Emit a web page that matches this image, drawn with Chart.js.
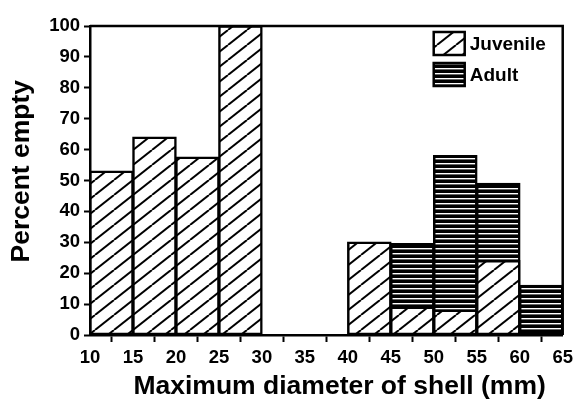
<!DOCTYPE html>
<html>
<head>
<meta charset="utf-8">
<script src="https://cdn.jsdelivr.net/npm/chart.js@4/dist/chart.umd.min.js"></script>
<style>
  html, body { margin: 0; padding: 0; background: #fff; }
  canvas { display: block; }
</style>
</head>
<body>
<canvas id="chart" width="578" height="403"></canvas>
<script>
// Size classes (mm): each bar spans one 5 mm bin between consecutive edges
const binEdges = [10, 15, 20, 25, 30, 35, 40, 45, 50, 55, 60, 65];
// Percent of shells found empty, per size class (null = no bar)
const juvenile = [53, 64, 57.5, 100, null, null, 30, 9, 8, 24, null];
const adult    = [null, null, null, null, null, null, null, 29.5, 58, 49, 16];
const seriesNames = ['Juvenile', 'Adult'];
const xTickValues = [10, 15, 20, 25, 30, 35, 40, 45, 50, 55, 60, 65];
const yTickValues = [0, 10, 20, 30, 40, 50, 60, 70, 80, 90, 100];
// Axis titles (leading en/thin spaces nudge the centred text along its axis)
const xTitle = '\u2002\u2002Maximum diameter of shell (mm)';
const yTitle = '\u2002\u2009Percent empty';

function toPoints(values) {
  const pts = [];
  values.forEach((v, i) => {
    if (v !== null) pts.push({ x: (binEdges[i] + binEdges[i + 1]) / 2, y: v });
  });
  return pts;
}

// Hatch fills
function diagonalHatch() {
  const w = 19, h = 15;
  const c = document.createElement('canvas');
  c.width = w; c.height = h;
  const g = c.getContext('2d');
  g.fillStyle = '#fff';
  g.fillRect(0, 0, w, h);
  g.strokeStyle = '#000';
  g.lineWidth = 2;
  for (const dx of [-w, 0, w]) {
    g.beginPath();
    g.moveTo(dx, h);
    g.lineTo(dx + w, 0);
    g.stroke();
  }
  return g.createPattern(c, 'repeat');
}
function horizontalHatch() {
  const c = document.createElement('canvas');
  c.width = 8; c.height = 5;
  const g = c.getContext('2d');
  g.fillStyle = '#000';
  g.fillRect(0, 0, 8, 5);
  g.fillStyle = '#fff';
  g.fillRect(0, 3, 8, 1.4);
  return g.createPattern(c, 'repeat');
}

const tickFont = { family: 'Liberation Sans', weight: 'bold', size: 18.5 };
const titleFont = { family: 'Liberation Sans', weight: 'bold', size: 26.5 };

// Closes the plot box along the top and right edges
const frame = {
  id: 'frame',
  afterDatasetsDraw(chart) {
    const { ctx, chartArea: a } = chart;
    ctx.save();
    ctx.strokeStyle = '#000';
    ctx.lineWidth = 2.5;
    ctx.beginPath();
    ctx.moveTo(a.left, a.top);
    ctx.lineTo(a.right, a.top);
    ctx.lineTo(a.right, a.bottom);
    ctx.stroke();
    ctx.restore();
  }
};

// Key drawn inside the plot, top right
const insideKey = {
  id: 'insideKey',
  afterDraw(chart) {
    const { ctx, chartArea: a } = chart;
    ctx.save();
    chart.data.datasets.forEach((ds, i) => {
      const bx = a.right - 129, by = a.top + 6 + i * 31, bw = 31, bh = 23;
      ctx.fillStyle = ds.backgroundColor;
      ctx.fillRect(bx, by, bw, bh);
      ctx.strokeStyle = '#000';
      ctx.lineWidth = 2.5;
      ctx.strokeRect(bx, by, bw, bh);
      ctx.fillStyle = '#000';
      ctx.font = 'bold 19px "Liberation Sans"';
      ctx.textBaseline = 'middle';
      ctx.textAlign = 'left';
      ctx.fillText(ds.label, bx + bw + 5, by + bh / 2 + 1);
    });
    ctx.restore();
  }
};

const barStyle = {
  borderColor: '#000',
  borderWidth: 2.5,
  borderSkipped: false,
  inflateAmount: 0.8,
  grouped: false,
  barPercentage: 1,
  categoryPercentage: 1
};

new Chart(document.getElementById('chart'), {
  type: 'bar',
  data: {
    datasets: [
      Object.assign({ label: seriesNames[0], data: toPoints(juvenile), backgroundColor: diagonalHatch(), order: 0 }, barStyle),
      Object.assign({ label: seriesNames[1], data: toPoints(adult), backgroundColor: horizontalHatch(), order: 1 }, barStyle)
    ]
  },
  options: {
    responsive: false,
    animation: false,
    devicePixelRatio: 1,
    layout: { padding: { left: 0, right: 10, top: 26, bottom: 0 } },
    plugins: { legend: { display: false }, tooltip: { enabled: false } },
    scales: {
      x: {
        type: 'linear',
        min: 10,
        max: 65,
        offset: false,
        afterBuildTicks: s => { s.ticks = xTickValues.map(v => ({ value: v })); },
        afterFit: s => { s.height = 68; },
        ticks: { font: tickFont, color: '#000', padding: 5, maxRotation: 0, autoSkip: false },
        grid: { drawOnChartArea: false, tickLength: 7, tickWidth: 2, tickColor: '#000' },
        border: { color: '#000', width: 2.5 },
        title: { display: true, text: xTitle, font: titleFont, color: '#000', padding: { top: 0, bottom: 0 } }
      },
      y: {
        min: 0,
        max: 100,
        afterBuildTicks: s => { s.ticks = yTickValues.map(v => ({ value: v })); },
        afterFit: s => { s.width = 90; },
        ticks: { font: tickFont, color: '#000', padding: 4 },
        grid: { drawOnChartArea: false, tickLength: 6, tickWidth: 2, tickColor: '#000' },
        border: { color: '#000', width: 2.5 },
        title: { display: true, text: yTitle, font: titleFont, color: '#000', padding: { top: 6, bottom: 0 } }
      }
    }
  },
  plugins: [frame, insideKey]
});
</script>
</body>
</html>
